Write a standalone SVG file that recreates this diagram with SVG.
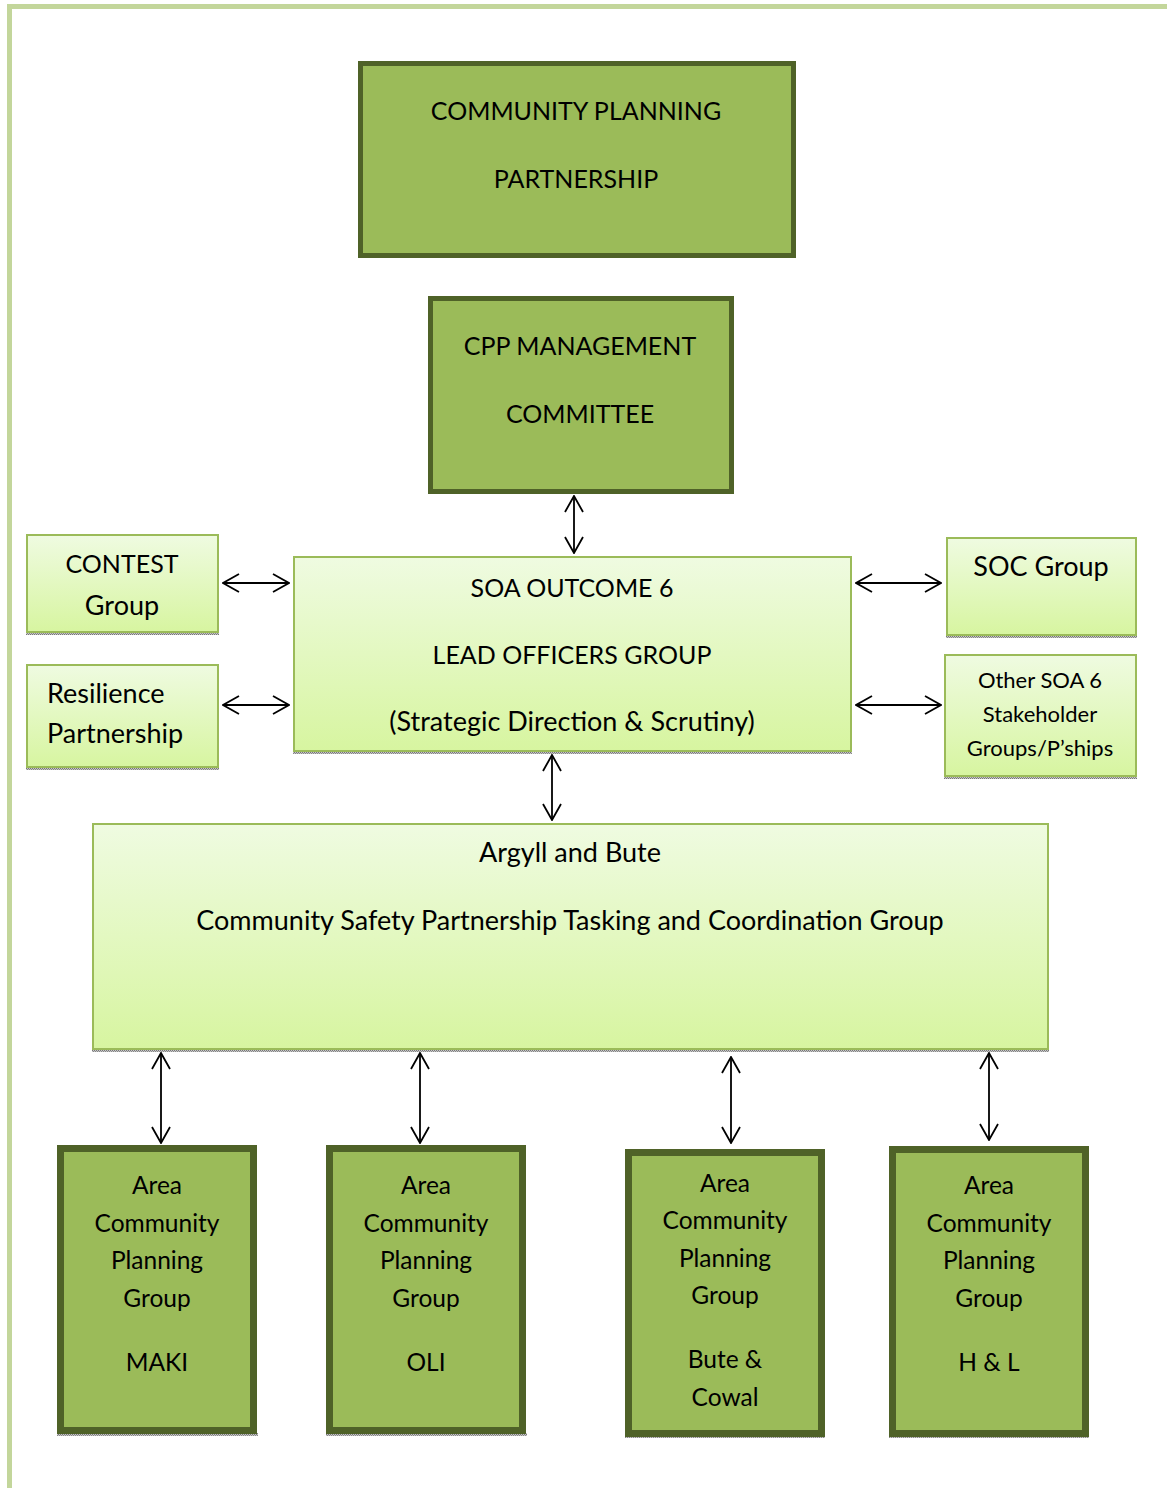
<svg xmlns="http://www.w3.org/2000/svg" width="1167" height="1488" viewBox="0 0 1167 1488">
<style>
text{font-family:Lato,"Open Sans","Liberation Sans",sans-serif;fill:#000;text-anchor:middle;font-size:25px}
.dark{fill:#9bbb59;stroke:#4f6228}
.light{fill:url(#lg);stroke:#9bbb59;stroke-width:2}
.sh{fill:url(#dots)}
.con line{stroke:#000;stroke-width:1.8;marker-start:url(#ah);marker-end:url(#ah)}
.sm{font-size:22px}
.mx{font-size:27px}
.bt{font-size:24.5px}
</style>
<defs>
<linearGradient id="lg" x1="0" y1="0" x2="0" y2="1">
<stop offset="0" stop-color="#effbe1"/>
<stop offset="1" stop-color="#d7f5a0"/>
</linearGradient>
<pattern id="dots" width="2" height="2" patternUnits="userSpaceOnUse">
<rect width="2" height="2" fill="#c8c8c8"/>
<rect width="1" height="1" fill="#777"/>
<rect x="1" y="1" width="1" height="1" fill="#888"/>
</pattern>
<marker id="ah" viewBox="0 0 18 20" refX="17" refY="10" markerWidth="18" markerHeight="20" markerUnits="userSpaceOnUse" orient="auto-start-reverse">
<path d="M1,1 L17,10 L1,19" fill="none" stroke="#000" stroke-width="1.8"/>
</marker>
</defs>
<rect x="0" y="0" width="1167" height="1488" fill="#fff"/>
<rect x="7" y="4" width="1160" height="5" fill="#c3d69b"/>
<rect x="7" y="4" width="5" height="1484" fill="#c3d69b"/>

<g class="con">
<line x1="574" y1="496" x2="574" y2="553"/>
<line x1="223" y1="583" x2="289" y2="583"/>
<line x1="223" y1="705" x2="289" y2="705"/>
<line x1="856" y1="583" x2="941" y2="583"/>
<line x1="856" y1="705" x2="941" y2="705"/>
<line x1="552" y1="755" x2="552" y2="820"/>
<line x1="161" y1="1053" x2="161" y2="1143"/>
<line x1="420" y1="1053" x2="420" y2="1143"/>
<line x1="731" y1="1057" x2="731" y2="1143"/>
<line x1="989" y1="1053" x2="989" y2="1140"/>
</g>

<g id="cpp">
<rect class="dark" x="360.5" y="63.5" width="433" height="192" stroke-width="5"/>
<text x="576" y="120">COMMUNITY PLANNING</text>
<text x="576" y="188">PARTNERSHIP</text>
</g>
<g id="mgmt">
<rect class="dark" x="430.5" y="298.5" width="301" height="193" stroke-width="5"/>
<text x="580" y="355">CPP MANAGEMENT</text>
<text x="580" y="423">COMMITTEE</text>
</g>

<g id="contest">
<rect class="sh" x="26" y="632" width="193" height="3"/>
<rect class="light" x="27" y="535" width="191" height="97"/>
<text x="122" y="573">CONTEST</text>
<text class="mx" x="122" y="615">Group</text>
</g>
<g id="resilience">
<rect class="sh" x="26" y="767" width="193" height="3"/>
<rect class="light" x="27" y="665" width="191" height="102"/>
<text class="mx" x="47" y="703" style="text-anchor:start">Resilience</text>
<text class="mx" x="47" y="743" style="text-anchor:start">Partnership</text>
</g>
<g id="soa">
<rect class="sh" x="293" y="751" width="559" height="3"/>
<rect class="light" x="294" y="557" width="557" height="194"/>
<text x="572" y="597">SOA OUTCOME 6</text>
<text x="572" y="664">LEAD OFFICERS GROUP</text>
<text class="mx" x="572" y="731">(Strategic Direction &amp; Scrutiny)</text>
</g>
<g id="soc">
<rect class="sh" x="946" y="635" width="191" height="3"/>
<rect class="light" x="947" y="538" width="189" height="97"/>
<text class="mx" x="1041" y="576">SOC Group</text>
</g>
<g id="other">
<rect class="sh" x="944" y="776" width="193" height="3"/>
<rect class="light" x="945" y="655" width="191" height="121"/>
<text class="sm" x="1040" y="688">Other SOA 6</text>
<text class="sm" x="1040" y="722">Stakeholder</text>
<text class="sm" x="1040" y="756">Groups/P’ships</text>
</g>
<g id="argyll">
<rect class="sh" x="92" y="1049" width="957" height="3"/>
<rect class="light" x="93" y="824" width="955" height="225"/>
<text class="mx" x="570" y="862">Argyll and Bute</text>
<text class="mx" x="570" y="930">Community Safety Partnership Tasking and Coordination Group</text>
</g>

<g id="maki" class="btg">
<rect class="sh" x="57" y="1433" width="201" height="3"/>
<rect class="dark" x="60.5" y="1148.5" width="193" height="282" stroke-width="7"/>
<text class="bt" x="157" y="1194">Area</text>
<text class="bt" x="157" y="1232">Community</text>
<text class="bt" x="157" y="1269">Planning</text>
<text class="bt" x="157" y="1307">Group</text>
<text class="bt" x="157" y="1371">MAKI</text>
</g>
<g id="oli">
<rect class="sh" x="326" y="1433" width="201" height="3"/>
<rect class="dark" x="329.5" y="1148.5" width="193" height="282" stroke-width="7"/>
<text class="bt" x="426" y="1194">Area</text>
<text class="bt" x="426" y="1232">Community</text>
<text class="bt" x="426" y="1269">Planning</text>
<text class="bt" x="426" y="1307">Group</text>
<text class="bt" x="426" y="1371">OLI</text>
</g>
<g id="bute">
<rect class="sh" x="625" y="1435" width="200" height="3"/>
<rect class="dark" x="628.5" y="1152.5" width="193" height="281" stroke-width="7"/>
<text class="bt" x="725" y="1192">Area</text>
<text class="bt" x="725" y="1229">Community</text>
<text class="bt" x="725" y="1267">Planning</text>
<text class="bt" x="725" y="1304">Group</text>
<text class="bt" x="725" y="1368">Bute &amp;</text>
<text class="bt" x="725" y="1406">Cowal</text>
</g>
<g id="hl">
<rect class="sh" x="889" y="1435" width="200" height="3"/>
<rect class="dark" x="892.5" y="1149.5" width="193" height="284" stroke-width="7"/>
<text class="bt" x="989" y="1194">Area</text>
<text class="bt" x="989" y="1232">Community</text>
<text class="bt" x="989" y="1269">Planning</text>
<text class="bt" x="989" y="1307">Group</text>
<text class="bt" x="989" y="1371">H &amp; L</text>
</g>
</svg>
